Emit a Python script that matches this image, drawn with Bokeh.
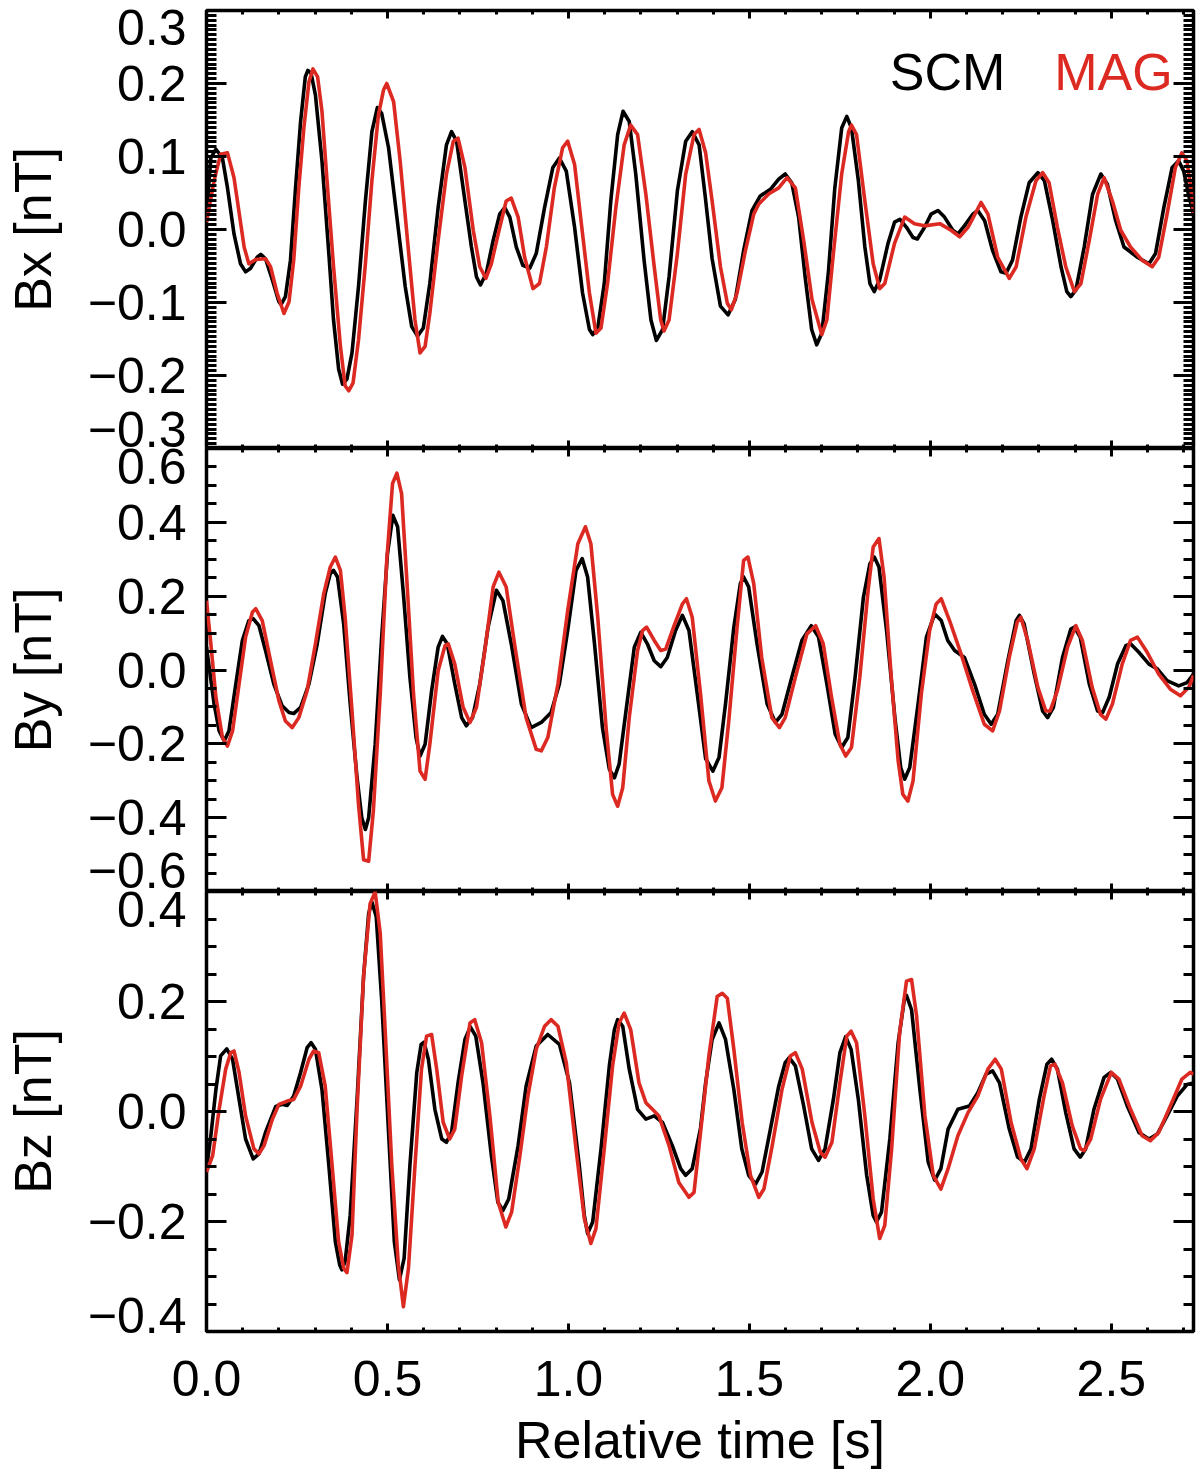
import numpy as np
from bokeh.plotting import figure
from bokeh.layouts import column
from bokeh.models import Range1d, LinearAxis, FixedTicker, Label
from bokeh.embed import file_html
from bokeh.resources import INLINE

FONT = "Liberation Sans"
BLACK = "#000000"
RED = "#dc2a22"

# ---------------- data, (time [s], value [nT]) ----------------
bx_scm = [(0.000, 0.021), (0.012, 0.098), (0.026, 0.110), (0.044, 0.098), (0.058, 0.057), (0.076, -0.006),
          (0.094, -0.047), (0.108, -0.058), (0.122, -0.053), (0.140, -0.038), (0.150, -0.034), (0.163, -0.040),
          (0.182, -0.069), (0.200, -0.099), (0.206, -0.103), (0.218, -0.092), (0.232, -0.042), (0.246, 0.057),
          (0.260, 0.148), (0.273, 0.209), (0.280, 0.218), (0.289, 0.214), (0.301, 0.184), (0.319, 0.094),
          (0.338, -0.033), (0.351, -0.124), (0.365, -0.191), (0.376, -0.212), (0.388, -0.205), (0.402, -0.169),
          (0.420, -0.078), (0.439, 0.039), (0.457, 0.134), (0.472, 0.167), (0.484, 0.159), (0.503, 0.112),
          (0.526, 0.017), (0.549, -0.078), (0.567, -0.133), (0.583, -0.146), (0.599, -0.135), (0.617, -0.074),
          (0.640, 0.030), (0.663, 0.116), (0.677, 0.134), (0.691, 0.121), (0.709, 0.057), (0.732, -0.024),
          (0.746, -0.065), (0.757, -0.076), (0.773, -0.060), (0.792, -0.015), (0.810, 0.021), (0.824, 0.030),
          (0.838, 0.017), (0.856, -0.024), (0.874, -0.049), (0.893, -0.053), (0.911, -0.033), (0.934, 0.030),
          (0.957, 0.085), (0.975, 0.098), (0.994, 0.080), (1.017, 0.003), (1.039, -0.087), (1.058, -0.137),
          (1.067, -0.144), (1.081, -0.135), (1.099, -0.074), (1.117, 0.039), (1.136, 0.130), (1.151, 0.162),
          (1.168, 0.148), (1.186, 0.076), (1.209, -0.042), (1.228, -0.124), (1.243, -0.152), (1.260, -0.137),
          (1.278, -0.065), (1.301, 0.053), (1.324, 0.121), (1.342, 0.134), (1.361, 0.116), (1.378, 0.045),
          (1.397, -0.040), (1.420, -0.105), (1.441, -0.117), (1.461, -0.096), (1.484, -0.029), (1.507, 0.026),
          (1.530, 0.046), (1.558, 0.055), (1.581, 0.069), (1.599, 0.076), (1.617, 0.064), (1.636, 0.017),
          (1.654, -0.065), (1.672, -0.137), (1.686, -0.158), (1.700, -0.142), (1.718, -0.060), (1.736, 0.057),
          (1.755, 0.139), (1.769, 0.155), (1.782, 0.139), (1.801, 0.067), (1.819, -0.024), (1.833, -0.074),
          (1.845, -0.085), (1.860, -0.069), (1.883, -0.019), (1.901, 0.010), (1.916, 0.014), (1.934, 0.003),
          (1.952, -0.011), (1.964, -0.013), (1.984, 0.003), (2.002, 0.021), (2.021, 0.026), (2.039, 0.017),
          (2.062, -0.001), (2.076, -0.006), (2.094, 0.005), (2.117, 0.021), (2.131, 0.026), (2.150, 0.012),
          (2.172, -0.029), (2.195, -0.058), (2.209, -0.060), (2.227, -0.042), (2.250, 0.017), (2.273, 0.064),
          (2.297, 0.078), (2.315, 0.067), (2.338, 0.012), (2.361, -0.051), (2.377, -0.085), (2.388, -0.092),
          (2.402, -0.083), (2.425, -0.024), (2.448, 0.048), (2.471, 0.076), (2.489, 0.062), (2.512, 0.012),
          (2.535, -0.024), (2.572, -0.038), (2.604, -0.047), (2.622, -0.033), (2.645, 0.030), (2.668, 0.085),
          (2.686, 0.094), (2.700, 0.080), (2.713, 0.048), (2.727, 0.021)]

bx_mag = [(0.000, 0.010), (0.021, 0.067), (0.039, 0.103), (0.058, 0.105), (0.076, 0.071), (0.104, -0.024),
          (0.117, -0.047), (0.136, -0.041), (0.163, -0.040), (0.177, -0.051), (0.195, -0.087), (0.214, -0.115),
          (0.228, -0.099), (0.241, -0.042), (0.255, 0.057), (0.269, 0.139), (0.283, 0.202), (0.294, 0.220),
          (0.307, 0.209), (0.319, 0.162), (0.333, 0.067), (0.351, -0.051), (0.370, -0.160), (0.383, -0.214),
          (0.393, -0.221), (0.405, -0.210), (0.420, -0.151), (0.439, -0.047), (0.457, 0.067), (0.475, 0.157),
          (0.489, 0.191), (0.498, 0.200), (0.517, 0.175), (0.535, 0.094), (0.558, -0.029), (0.576, -0.124),
          (0.590, -0.169), (0.604, -0.160), (0.617, -0.115), (0.640, -0.015), (0.663, 0.076), (0.682, 0.121),
          (0.695, 0.125), (0.714, 0.085), (0.737, -0.001), (0.755, -0.051), (0.772, -0.067), (0.787, -0.047),
          (0.806, -0.006), (0.828, 0.039), (0.842, 0.043), (0.861, 0.017), (0.879, -0.038), (0.902, -0.081),
          (0.920, -0.074), (0.939, -0.024), (0.961, 0.057), (0.984, 0.112), (0.998, 0.121), (1.017, 0.089),
          (1.039, -0.006), (1.058, -0.087), (1.076, -0.142), (1.090, -0.135), (1.108, -0.074), (1.131, 0.030),
          (1.154, 0.116), (1.172, 0.143), (1.191, 0.130), (1.214, 0.048), (1.237, -0.051), (1.255, -0.124),
          (1.264, -0.139), (1.278, -0.124), (1.301, -0.033), (1.324, 0.076), (1.347, 0.130), (1.361, 0.137),
          (1.379, 0.105), (1.397, 0.039), (1.420, -0.051), (1.439, -0.101), (1.450, -0.110), (1.466, -0.087),
          (1.489, -0.029), (1.512, 0.021), (1.526, 0.035), (1.554, 0.049), (1.581, 0.057), (1.604, 0.071),
          (1.627, 0.057), (1.650, -0.015), (1.673, -0.096), (1.700, -0.144), (1.714, -0.124), (1.732, -0.033),
          (1.755, 0.076), (1.774, 0.134), (1.782, 0.143), (1.796, 0.130), (1.819, 0.039), (1.842, -0.047),
          (1.860, -0.081), (1.874, -0.074), (1.901, -0.019), (1.929, 0.017), (1.956, 0.008), (1.984, 0.005),
          (2.026, 0.008), (2.057, -0.001), (2.081, -0.010), (2.104, 0.003), (2.140, 0.037), (2.159, 0.021),
          (2.186, -0.038), (2.218, -0.067), (2.237, -0.051), (2.264, 0.017), (2.292, 0.067), (2.310, 0.078),
          (2.328, 0.064), (2.351, 0.003), (2.374, -0.051), (2.398, -0.085), (2.416, -0.074), (2.439, -0.015),
          (2.462, 0.048), (2.480, 0.071), (2.503, 0.039), (2.526, -0.001), (2.553, -0.024), (2.585, -0.042),
          (2.613, -0.051), (2.631, -0.038), (2.654, 0.021), (2.677, 0.085), (2.695, 0.105), (2.709, 0.094),
          (2.722, 0.048), (2.727, 0.021)]

by_scm = [(0.000, 0.062), (0.021, -0.092), (0.035, -0.165), (0.049, -0.192), (0.062, -0.165), (0.081, -0.038),
          (0.099, 0.080), (0.117, 0.134), (0.129, 0.139), (0.145, 0.120), (0.163, 0.053), (0.186, -0.038),
          (0.209, -0.097), (0.228, -0.115), (0.241, -0.118), (0.260, -0.101), (0.283, -0.038), (0.306, 0.071),
          (0.328, 0.207), (0.342, 0.261), (0.351, 0.270), (0.362, 0.252), (0.379, 0.125), (0.397, -0.092),
          (0.416, -0.292), (0.429, -0.400), (0.439, -0.432), (0.448, -0.400), (0.466, -0.201), (0.484, 0.089),
          (0.500, 0.315), (0.515, 0.419), (0.528, 0.388), (0.544, 0.207), (0.562, -0.020), (0.579, -0.183),
          (0.590, -0.233), (0.604, -0.201), (0.622, -0.056), (0.640, 0.062), (0.652, 0.091), (0.665, 0.071),
          (0.686, -0.038), (0.705, -0.129), (0.718, -0.151), (0.735, -0.129), (0.755, -0.038), (0.778, 0.116),
          (0.801, 0.216), (0.819, 0.188), (0.842, 0.071), (0.870, -0.092), (0.897, -0.156), (0.925, -0.142),
          (0.952, -0.115), (0.975, -0.038), (0.998, 0.107), (1.021, 0.270), (1.038, 0.302), (1.053, 0.252),
          (1.072, 0.071), (1.094, -0.156), (1.113, -0.269), (1.127, -0.292), (1.140, -0.255), (1.159, -0.111),
          (1.182, 0.062), (1.200, 0.102), (1.218, 0.071), (1.237, 0.025), (1.255, 0.009), (1.273, 0.034),
          (1.296, 0.107), (1.315, 0.148), (1.333, 0.107), (1.356, -0.065), (1.379, -0.240), (1.399, -0.274),
          (1.416, -0.237), (1.434, -0.092), (1.457, 0.116), (1.475, 0.234), (1.484, 0.252), (1.498, 0.225),
          (1.521, 0.071), (1.549, -0.092), (1.572, -0.142), (1.590, -0.120), (1.617, -0.020), (1.645, 0.080),
          (1.671, 0.120), (1.691, 0.089), (1.714, -0.038), (1.737, -0.174), (1.755, -0.210), (1.772, -0.183),
          (1.792, -0.020), (1.815, 0.197), (1.833, 0.288), (1.845, 0.306), (1.858, 0.279), (1.879, 0.107),
          (1.902, -0.129), (1.918, -0.264), (1.929, -0.296), (1.943, -0.264), (1.966, -0.092), (1.989, 0.089),
          (2.012, 0.152), (2.030, 0.134), (2.048, 0.080), (2.067, 0.053), (2.094, 0.034), (2.122, -0.038),
          (2.149, -0.120), (2.168, -0.147), (2.186, -0.120), (2.214, 0.025), (2.237, 0.134), (2.246, 0.148),
          (2.259, 0.125), (2.287, -0.011), (2.310, -0.111), (2.324, -0.129), (2.340, -0.101), (2.365, 0.034),
          (2.388, 0.111), (2.398, 0.116), (2.414, 0.089), (2.439, -0.038), (2.462, -0.111), (2.476, -0.115),
          (2.494, -0.074), (2.517, 0.016), (2.540, 0.066), (2.553, 0.071), (2.576, 0.048), (2.604, 0.016),
          (2.627, 0.003), (2.654, -0.029), (2.686, -0.043), (2.709, -0.034), (2.727, -0.011)]

by_mag = [(0.000, 0.188), (0.012, 0.071), (0.026, -0.074), (0.044, -0.183), (0.058, -0.206), (0.072, -0.165),
          (0.090, -0.038), (0.108, 0.089), (0.127, 0.157), (0.136, 0.166), (0.154, 0.134), (0.177, 0.025),
          (0.200, -0.083), (0.218, -0.138), (0.237, -0.156), (0.255, -0.129), (0.278, -0.056), (0.301, 0.071),
          (0.324, 0.207), (0.342, 0.279), (0.356, 0.306), (0.370, 0.270), (0.383, 0.143), (0.402, -0.111),
          (0.420, -0.364), (0.434, -0.514), (0.448, -0.518), (0.461, -0.382), (0.480, -0.065), (0.498, 0.297),
          (0.514, 0.505), (0.526, 0.533), (0.539, 0.478), (0.553, 0.252), (0.572, -0.065), (0.590, -0.274),
          (0.604, -0.296), (0.617, -0.201), (0.640, -0.002), (0.659, 0.066), (0.668, 0.071), (0.686, 0.016),
          (0.709, -0.101), (0.728, -0.142), (0.746, -0.101), (0.769, 0.053), (0.792, 0.225), (0.808, 0.265),
          (0.828, 0.225), (0.851, 0.071), (0.883, -0.129), (0.911, -0.215), (0.925, -0.219), (0.943, -0.183),
          (0.971, -0.038), (0.998, 0.161), (1.026, 0.342), (1.047, 0.388), (1.062, 0.342), (1.081, 0.143),
          (1.104, -0.156), (1.122, -0.337), (1.136, -0.369), (1.150, -0.319), (1.168, -0.129), (1.191, 0.053),
          (1.205, 0.107), (1.216, 0.116), (1.237, 0.080), (1.255, 0.053), (1.269, 0.057), (1.292, 0.120),
          (1.315, 0.179), (1.326, 0.193), (1.342, 0.143), (1.365, -0.065), (1.388, -0.300), (1.406, -0.355),
          (1.424, -0.319), (1.443, -0.138), (1.466, 0.116), (1.484, 0.297), (1.496, 0.306), (1.512, 0.234),
          (1.534, 0.034), (1.562, -0.129), (1.583, -0.156), (1.599, -0.129), (1.627, -0.020), (1.659, 0.098),
          (1.683, 0.120), (1.704, 0.071), (1.727, -0.074), (1.750, -0.201), (1.766, -0.233), (1.782, -0.210),
          (1.805, -0.020), (1.828, 0.216), (1.842, 0.333), (1.858, 0.356), (1.872, 0.252), (1.892, -0.020),
          (1.911, -0.246), (1.924, -0.337), (1.938, -0.355), (1.952, -0.301), (1.975, -0.065), (1.998, 0.107),
          (2.016, 0.179), (2.030, 0.193), (2.053, 0.134), (2.085, 0.043), (2.117, -0.056), (2.149, -0.147),
          (2.172, -0.165), (2.191, -0.111), (2.218, 0.034), (2.240, 0.130), (2.250, 0.143), (2.269, 0.080),
          (2.297, -0.047), (2.319, -0.111), (2.331, -0.111), (2.351, -0.056), (2.379, 0.062), (2.402, 0.120),
          (2.420, 0.080), (2.447, -0.047), (2.470, -0.120), (2.485, -0.133), (2.503, -0.092), (2.530, 0.016),
          (2.553, 0.080), (2.572, 0.089), (2.599, 0.048), (2.631, -0.011), (2.663, -0.052), (2.691, -0.070),
          (2.714, -0.047), (2.727, -0.015)]

bz_scm = [(0.000, -0.104), (0.012, -0.044), (0.026, 0.040), (0.039, 0.101), (0.056, 0.114), (0.072, 0.095),
          (0.090, 0.022), (0.108, -0.050), (0.129, -0.086), (0.145, -0.077), (0.163, -0.038), (0.191, 0.009),
          (0.209, 0.013), (0.223, 0.011), (0.241, 0.028), (0.260, 0.071), (0.278, 0.116), (0.289, 0.125),
          (0.301, 0.113), (0.319, 0.040), (0.338, -0.098), (0.356, -0.237), (0.368, -0.279), (0.374, -0.288),
          (0.383, -0.273), (0.397, -0.189), (0.416, 0.022), (0.434, 0.246), (0.448, 0.360), (0.457, 0.381),
          (0.469, 0.354), (0.484, 0.203), (0.503, -0.038), (0.519, -0.237), (0.533, -0.306), (0.546, -0.267),
          (0.562, -0.098), (0.581, 0.071), (0.593, 0.122), (0.601, 0.126), (0.613, 0.095), (0.631, 0.004),
          (0.650, -0.050), (0.663, -0.056), (0.677, -0.038), (0.695, 0.052), (0.714, 0.131), (0.729, 0.154),
          (0.744, 0.137), (0.764, 0.052), (0.787, -0.080), (0.805, -0.165), (0.819, -0.180), (0.835, -0.159),
          (0.861, -0.062), (0.883, 0.046), (0.911, 0.119), (0.943, 0.140), (0.975, 0.122), (1.003, 0.052),
          (1.030, -0.098), (1.044, -0.189), (1.053, -0.222), (1.067, -0.201), (1.090, -0.068), (1.113, 0.083),
          (1.127, 0.149), (1.136, 0.167), (1.150, 0.155), (1.168, 0.077), (1.191, 0.004), (1.214, -0.014),
          (1.237, -0.008), (1.260, -0.020), (1.287, -0.062), (1.310, -0.104), (1.324, -0.116), (1.342, -0.104),
          (1.365, -0.030), (1.379, 0.052), (1.397, 0.131), (1.416, 0.161), (1.434, 0.131), (1.457, 0.040),
          (1.479, -0.068), (1.498, -0.116), (1.517, -0.132), (1.535, -0.110), (1.558, -0.032), (1.581, 0.046),
          (1.599, 0.089), (1.610, 0.098), (1.627, 0.083), (1.650, 0.010), (1.672, -0.068), (1.691, -0.089),
          (1.709, -0.068), (1.732, 0.022), (1.750, 0.107), (1.766, 0.136), (1.781, 0.113), (1.801, 0.022),
          (1.824, -0.116), (1.842, -0.189), (1.851, -0.201), (1.865, -0.183), (1.888, -0.050), (1.911, 0.125),
          (1.928, 0.203), (1.934, 0.211), (1.948, 0.185), (1.971, 0.040), (1.994, -0.092), (2.012, -0.125),
          (2.029, -0.104), (2.049, -0.032), (2.076, 0.004), (2.108, 0.010), (2.131, 0.034), (2.154, 0.068),
          (2.172, 0.074), (2.191, 0.052), (2.218, -0.032), (2.241, -0.083), (2.260, -0.092), (2.278, -0.068),
          (2.301, 0.022), (2.322, 0.086), (2.335, 0.095), (2.351, 0.077), (2.374, -0.002), (2.397, -0.068),
          (2.414, -0.083), (2.429, -0.068), (2.452, 0.004), (2.480, 0.062), (2.498, 0.071), (2.517, 0.059),
          (2.544, 0.010), (2.576, -0.038), (2.604, -0.050), (2.627, -0.041), (2.654, -0.008), (2.682, 0.028),
          (2.709, 0.049), (2.727, 0.052)]

bz_mag = [(0.000, -0.110), (0.017, -0.080), (0.035, 0.004), (0.053, 0.077), (0.067, 0.107), (0.076, 0.110),
          (0.090, 0.071), (0.108, -0.008), (0.131, -0.068), (0.145, -0.077), (0.159, -0.062), (0.182, -0.014),
          (0.200, 0.013), (0.223, 0.019), (0.241, 0.022), (0.260, 0.046), (0.283, 0.095), (0.296, 0.110),
          (0.310, 0.107), (0.328, 0.046), (0.347, -0.098), (0.365, -0.237), (0.379, -0.285), (0.388, -0.293),
          (0.402, -0.225), (0.416, 0.004), (0.434, 0.246), (0.452, 0.378), (0.466, 0.399), (0.480, 0.324),
          (0.494, 0.143), (0.512, -0.098), (0.530, -0.279), (0.544, -0.355), (0.558, -0.285), (0.576, -0.098),
          (0.594, 0.077), (0.608, 0.137), (0.622, 0.140), (0.636, 0.077), (0.654, -0.020), (0.672, -0.050),
          (0.686, -0.032), (0.705, 0.065), (0.728, 0.161), (0.741, 0.167), (0.760, 0.125), (0.783, -0.008),
          (0.806, -0.165), (0.827, -0.210), (0.843, -0.183), (0.866, -0.080), (0.888, 0.028), (0.911, 0.113),
          (0.934, 0.155), (0.952, 0.167), (0.971, 0.155), (0.994, 0.089), (1.021, -0.068), (1.044, -0.195),
          (1.062, -0.240), (1.076, -0.213), (1.099, -0.068), (1.122, 0.083), (1.140, 0.161), (1.154, 0.179),
          (1.172, 0.149), (1.195, 0.052), (1.214, 0.016), (1.232, 0.004), (1.250, -0.008), (1.278, -0.062),
          (1.305, -0.129), (1.333, -0.156), (1.347, -0.147), (1.365, -0.038), (1.388, 0.101), (1.411, 0.209),
          (1.425, 0.215), (1.439, 0.206), (1.457, 0.113), (1.480, -0.020), (1.503, -0.116), (1.526, -0.156),
          (1.540, -0.141), (1.563, -0.062), (1.590, 0.040), (1.613, 0.101), (1.627, 0.107), (1.646, 0.077),
          (1.673, -0.020), (1.696, -0.074), (1.709, -0.083), (1.728, -0.056), (1.750, 0.052), (1.769, 0.137),
          (1.781, 0.146), (1.796, 0.125), (1.819, -0.008), (1.842, -0.159), (1.860, -0.231), (1.874, -0.207),
          (1.893, -0.068), (1.915, 0.143), (1.934, 0.237), (1.948, 0.240), (1.962, 0.173), (1.985, -0.008),
          (2.008, -0.116), (2.029, -0.141), (2.049, -0.104), (2.076, -0.044), (2.104, -0.002), (2.131, 0.028),
          (2.159, 0.077), (2.179, 0.095), (2.196, 0.077), (2.223, -0.020), (2.250, -0.086), (2.267, -0.104),
          (2.287, -0.068), (2.314, 0.028), (2.332, 0.083), (2.344, 0.086), (2.365, 0.052), (2.392, -0.026),
          (2.415, -0.068), (2.425, -0.071), (2.443, -0.050), (2.470, 0.022), (2.500, 0.071), (2.521, 0.059),
          (2.553, 0.004), (2.585, -0.044), (2.608, -0.053), (2.631, -0.038), (2.663, 0.010), (2.695, 0.059),
          (2.718, 0.071), (2.727, 0.068)]

x_ticks = [0.0, 0.5, 1.0, 1.5, 2.0, 2.5]
x_tick_labels = ["0.0", "0.5", "1.0", "1.5", "2.0", "2.5"]
x_title = "Relative time [s]"

bx_ticks = [-0.3, -0.2, -0.1, 0.0, 0.1, 0.2, 0.3]
bx_tick_labels = ["−0.3", "−0.2", "−0.1", "0.0", "0.1", "0.2", "0.3"]
by_ticks = [-0.6, -0.4, -0.2, 0.0, 0.2, 0.4, 0.6]
by_tick_labels = ["−0.6", "−0.4", "−0.2", "0.0", "0.2", "0.4", "0.6"]
bz_ticks = [-0.4, -0.2, 0.0, 0.2, 0.4]
bz_tick_labels = ["−0.4", "−0.2", "0.0", "0.2", "0.4"]

y_titles = ["Bx [nT]", "By [nT]", "Bz [nT]"]
legend_names = ["SCM", "MAG"]

# ---------------- layout / style ----------------
T_MAX = 2.727
W = 1200
LEFT = 202
RIGHT = 7
TICK_FS = "50px"
TITLE_FS = "52px"


def add_overrides(ax, ticks, labels):
    d = {}
    for v, s in zip(ticks, labels):
        d[float(v)] = s
        d[repr(float(v))] = s
        d[f"{v:g}"] = s
    ax.major_label_overrides = d


def style_axis(ax, ticks, minor, tin, mtin):
    ax.ticker = FixedTicker(ticks=ticks, minor_ticks=minor)
    ax.axis_line_color = None
    ax.major_tick_in = tin
    ax.major_tick_out = 0
    ax.minor_tick_in = mtin
    ax.minor_tick_out = 0
    ax.major_tick_line_width = 3
    ax.minor_tick_line_width = 3
    ax.major_tick_line_color = "black"
    ax.minor_tick_line_color = "black"
    ax.major_label_text_color = "black"
    ax.axis_label_text_color = "black"


def hide_labels(ax):
    ax.major_label_text_font_size = "0px"
    ax.major_label_standoff = 0
    ax.axis_label = None


x_minor = [round(v, 2) for v in np.arange(0.0, T_MAX, 0.1)]


def make_panel(height, top, bottom, ylim, yt, ylab, yminor, ytitle, edge_px, with_x_labels):
    p = figure(width=W, height=height, x_range=Range1d(0, T_MAX), y_range=Range1d(*ylim),
               output_backend="svg", toolbar_location=None,
               x_axis_location=None, y_axis_location=None,
               min_border_left=LEFT, min_border_right=RIGHT,
               min_border_top=top, min_border_bottom=bottom)
    p.grid.visible = False
    p.outline_line_color = "black"
    p.outline_line_width = 3.5
    p.outline_line_alpha = 1.0
    p.background_fill_color = "white"
    p.border_fill_color = "white"

    # left: tick marks only
    lt = LinearAxis()
    style_axis(lt, yt, yminor, 20, 10)
    hide_labels(lt)
    p.add_layout(lt, "left")

    # left: labels only (end labels nudged inward like the reference)
    frame_h = height - top - bottom
    px_per_unit = frame_h / (ylim[1] - ylim[0])
    pos = list(yt)
    pos[0] = round(yt[0] + edge_px[0] / px_per_unit, 4)
    pos[-1] = round(yt[-1] - edge_px[1] / px_per_unit, 4)
    ll = LinearAxis()
    ll.ticker = FixedTicker(ticks=pos, minor_ticks=[])
    ll.axis_line_color = None
    ll.major_tick_line_color = None
    ll.minor_tick_line_color = None
    ll.major_tick_in = 0
    ll.major_tick_out = 0
    ll.minor_tick_in = 0
    ll.minor_tick_out = 0
    add_overrides(ll, pos, ylab)
    ll.major_label_text_color = "black"
    ll.major_label_text_font = FONT
    ll.major_label_text_font_size = TICK_FS
    ll.major_label_standoff = 20
    ll.axis_label = ytitle
    ll.axis_label_text_color = "black"
    ll.axis_label_text_font = FONT
    ll.axis_label_text_font_size = TITLE_FS
    ll.axis_label_text_font_style = "normal"
    ll.axis_label_standoff = 23
    p.add_layout(ll, "left")

    ra = LinearAxis()
    style_axis(ra, yt, yminor, 20, 10)
    hide_labels(ra)
    p.add_layout(ra, "right")

    ta = LinearAxis()
    style_axis(ta, x_ticks, x_minor, 8, 4)
    hide_labels(ta)
    p.add_layout(ta, "above")

    ba = LinearAxis()
    style_axis(ba, x_ticks, x_minor, 8, 4)
    if with_x_labels:
        add_overrides(ba, x_ticks, x_tick_labels)
        ba.major_label_text_font = FONT
        ba.major_label_text_font_size = TICK_FS
        ba.major_label_standoff = 29
        ba.axis_label = x_title
        ba.axis_label_text_font = FONT
        ba.axis_label_text_font_size = TITLE_FS
        ba.axis_label_text_font_style = "normal"
        ba.axis_label_standoff = 12
    else:
        hide_labels(ba)
    p.add_layout(ba, "below")
    return p


bx_minor = list(np.linspace(-0.3, 0.3, 91))
by_minor = list(np.linspace(-0.6, 0.6, 25))
bz_minor = list(np.linspace(-0.4, 0.4, 17))

p1 = make_panel(448, 10, 0, (-0.3, 0.3), bx_ticks, bx_tick_labels, bx_minor, y_titles[0], (19, 17), False)
p2 = make_panel(443, 0, 0, (-0.6, 0.6), by_ticks, by_tick_labels, by_minor, y_titles[1], (21, 18), False)
p3 = make_panel(580, 0, 140, (-0.4, 0.4), bz_ticks, bz_tick_labels, bz_minor, y_titles[2], (16, 18), True)

for p, scm, mag in ((p1, bx_scm, bx_mag), (p2, by_scm, by_mag), (p3, bz_scm, bz_mag)):
    ts, vs = zip(*scm)
    tm, vm = zip(*mag)
    p.line(list(ts), list(vs), line_color=BLACK, line_width=3.6, line_join="round")
    p.line(list(tm), list(vm), line_color=RED, line_width=3.6, line_join="round")

p1.add_layout(Label(x=1.888, y=0.216, text=legend_names[0], text_font=FONT, text_font_size=TITLE_FS,
                    text_color=BLACK, text_baseline="middle"))
p1.add_layout(Label(x=2.342, y=0.216, text=legend_names[1], text_font=FONT, text_font_size=TITLE_FS,
                    text_color=RED, text_baseline="middle"))

layout = column(p1, p2, p3, spacing=0)
with open("out.html", "w", encoding="utf-8") as f:
    f.write(file_html(layout, INLINE))
